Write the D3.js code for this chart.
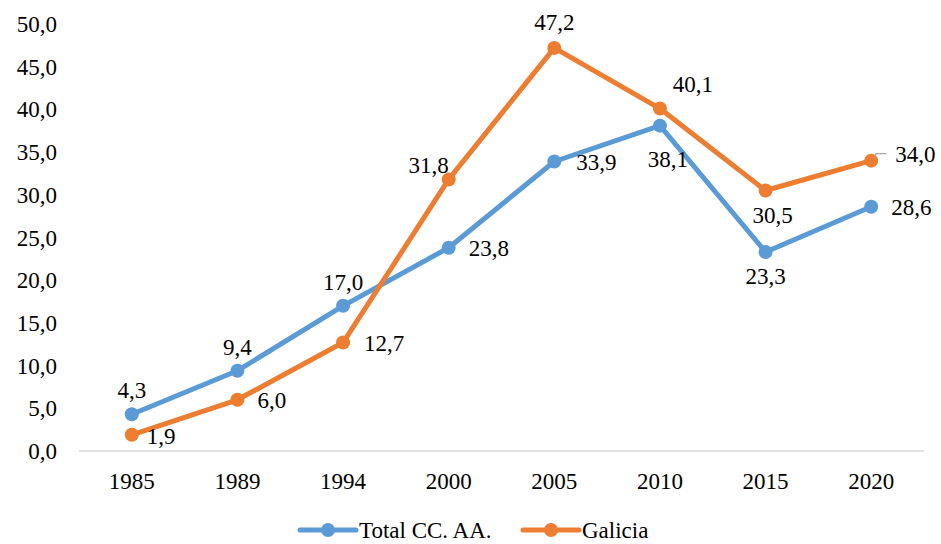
<!DOCTYPE html>
<meta charset="utf-8">
<style>
  body { margin: 0; background: #fff; }
  text { font-family: "Liberation Serif", serif; fill: #000; }
</style>
<body>
<div id="chart"></div>
<script src="https://d3js.org/d3.v7.min.js"></script>
<script>

var years = ["1985", "1989", "1994", "2000", "2005", "2010", "2015", "2020"];
var totalCCAA = [4.3, 9.4, 17.0, 23.8, 33.9, 38.1, 23.3, 28.6];
var galicia = [1.9, 6.0, 12.7, 31.8, 47.2, 40.1, 30.5, 34.0];
var yTicks = [0, 5, 10, 15, 20, 25, 30, 35, 40, 45, 50];

// label offsets from each point: [dx, dy, anchor]
var totalLab = [[0, -24, "middle"], [0, -24, "middle"], [0, -24, "middle"], [20, 0, "start"],
                [22, 0, "start"], [8, 33, "middle"], [0, 24, "middle"], [20, 0, "start"]];
var galiciaLab = [[15, 1, "start"], [20, 0, "start"], [21, 0, "start"], [-20, -14, "middle"],
                  [0, -26, "middle"], [33, -25, "middle"], [7, 24, "middle"], [24, -7, "start"]];

var W = 941, H = 544;
var margin = {top: 24, right: 17, bottom: 93, left: 79};
var fs = "23px";

var svg = d3.select("#chart").append("svg")
  .attr("width", W)
  .attr("height", H);

var x = d3.scaleBand()
  .domain(years)
  .range([margin.left, W - margin.right]);

var y = d3.scaleLinear()
  .domain([0, 50])
  .range([H - margin.bottom, margin.top]);

var fmt = function(v) { return d3.format(".1f")(v).replace(".", ","); };
var cx = function(i) { return x(years[i]) + x.bandwidth() / 2; };

// baseline
svg.append("line")
  .attr("x1", margin.left).attr("x2", W - margin.right)
  .attr("y1", y(0)).attr("y2", y(0))
  .attr("stroke", "#d9d9d9").attr("stroke-width", 1.3);

// y labels
svg.selectAll(".ylab").data(yTicks).enter().append("text")
  .attr("class", "ylab")
  .attr("x", 57)
  .attr("y", function(d) { return y(d); })
  .attr("dy", "0.35em")
  .attr("text-anchor", "end")
  .style("font-size", fs)
  .text(fmt);

// x labels
svg.selectAll(".xlab").data(years).enter().append("text")
  .attr("class", "xlab")
  .attr("x", function(d) { return x(d) + x.bandwidth() / 2; })
  .attr("y", 481)
  .attr("dy", "0.35em")
  .attr("text-anchor", "middle")
  .style("font-size", fs)
  .text(function(d) { return d; });

var series = [
  {name: "Total CC. AA.", values: totalCCAA, color: "#5b9bd5", lab: totalLab},
  {name: "Galicia", values: galicia, color: "#ed7d31", lab: galiciaLab}
];

var line = d3.line()
  .x(function(d, i) { return cx(i); })
  .y(function(d) { return y(d); });

series.forEach(function(s) {
  svg.append("path")
    .attr("d", line(s.values))
    .attr("fill", "none")
    .attr("stroke", s.color)
    .attr("stroke-width", 5)
    .attr("stroke-linejoin", "round")
    .attr("stroke-linecap", "round");

  svg.selectAll(null).data(s.values).enter().append("circle")
    .attr("cx", function(d, i) { return cx(i); })
    .attr("cy", function(d) { return y(d); })
    .attr("r", 7)
    .attr("fill", s.color);
});

// leader line for the last Galicia label
var lx = cx(7), ly = y(galicia[7]);
svg.append("polyline")
  .attr("points", [[lx + 3, ly - 2], [lx + 5, ly - 7], [lx + 15, ly - 7]].join(" "))
  .attr("fill", "none")
  .attr("stroke", "#a6a6a6")
  .attr("stroke-width", 1.3);

series.forEach(function(s) {
  s.values.forEach(function(v, i) {
    var o = s.lab[i];
    svg.append("text")
      .attr("x", cx(i) + o[0])
      .attr("y", y(v) + o[1])
      .attr("dy", "0.35em")
      .attr("text-anchor", o[2])
      .style("font-size", fs)
      .text(fmt(v));
  });
});

// legend
var legendItems = [
  {name: series[0].name, color: series[0].color, x: 300},
  {name: series[1].name, color: series[1].color, x: 523}
];
legendItems.forEach(function(d) {
  var ly = 530;
  svg.append("line")
    .attr("x1", d.x).attr("x2", d.x + 56)
    .attr("y1", ly).attr("y2", ly)
    .attr("stroke", d.color).attr("stroke-width", 5)
    .attr("stroke-linecap", "round");
  svg.append("circle")
    .attr("cx", d.x + 28).attr("cy", ly).attr("r", 7)
    .attr("fill", d.color);
  svg.append("text")
    .attr("x", d.x + 59).attr("y", ly)
    .attr("dy", "0.35em")
    .style("font-size", fs)
    .text(d.name);
});

</script>
</body>
